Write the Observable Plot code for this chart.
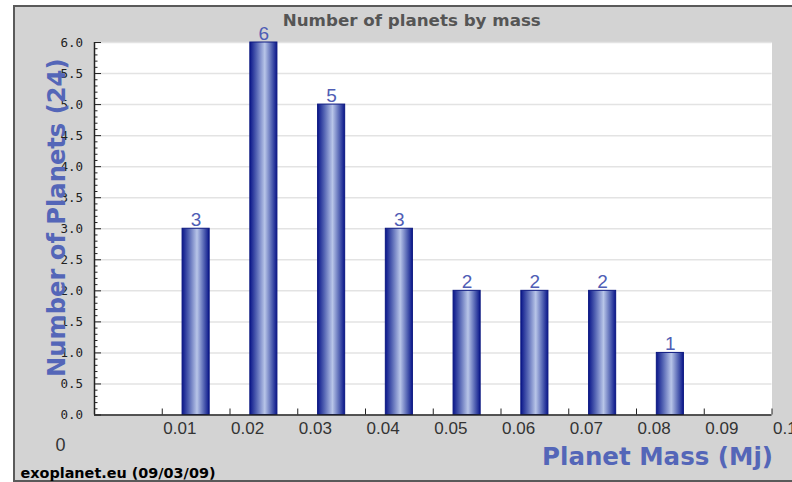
<!DOCTYPE html>
<html>
<head>
<meta charset="utf-8">
<script src="https://cdn.jsdelivr.net/npm/d3@7"></script>
<script src="https://cdn.jsdelivr.net/npm/@observablehq/plot@0.6"></script>
<style>
  html, body { margin: 0; padding: 0; background: #ffffff; }
  #wrap { position: relative; width: 792px; height: 482px; overflow: hidden; }
  #panel {
    position: absolute; left: 13px; top: 5px; width: 779px; height: 477px;
    box-sizing: border-box; background: #d3d3d3;
    border-top: 2px solid #5a5a5a; border-left: 2px solid #5a5a5a; border-bottom: 2px solid #5a5a5a;
  }
  #chart { position: absolute; left: 0; top: 0; }
</style>
</head>
<body>
<div id="wrap"><div id="panel"></div><div id="chart"></div></div>
<script>
// Histogram of planet masses (Mj): lower edge of each bin and its count
const binStart = [0.01, 0.02, 0.03, 0.04, 0.05, 0.06, 0.07, 0.08];
const counts   = [3, 6, 5, 3, 2, 2, 2, 1];
const binWidth = 0.01;

const xTicks = [0.01, 0.02, 0.03, 0.04, 0.05, 0.06, 0.07, 0.08, 0.09, 0.1];
const xTickLabels = ["0.01", "0.02", "0.03", "0.04", "0.05", "0.06", "0.07", "0.08", "0.09", "0.1"];
const yMajor = [0, 0.5, 1, 1.5, 2, 2.5, 3, 3.5, 4, 4.5, 5, 5.5, 6];
const yMinor = d3.range(0, 61).filter(i => i % 5 !== 0).map(i => i / 10);

const title = "Number of planets by mass";
const yLabel = "Number of Planets (24)";
const xLabel = "Planet Mass (Mj)";
const credit = "exoplanet.eu (09/03/09)";
const originLabel = "0";

const bins = binStart.map((lo, i) => ({lo, count: counts[i]}));

const labelBlue = "#5466b8";
const axisInk = "#222222";

const chart = Plot.plot({
  width: 792,
  height: 482,
  marginLeft: 94,
  marginRight: 20.5,
  marginTop: 42,
  marginBottom: 67.5,
  style: {fontFamily: "DejaVu Sans", background: "transparent"},
  x: {domain: [0, 0.1]},
  y: {domain: [0, 6]},
  marks: [
    Plot.frame({fill: "white", stroke: null}),
    Plot.gridY({ticks: yMajor, stroke: "#e3e3e3", strokeOpacity: 1, strokeWidth: 1.5}),
    // bars occupy the middle 40% of each bin
    Plot.rectY(bins, {
      x1: d => d.lo + binWidth * 0.3,
      x2: d => d.lo + binWidth * 0.7,
      y: "count",
      fill: "url(#barGradient)",
      stroke: "#0c1880",
      strokeWidth: 1
    }),
    Plot.text(bins, {
      x: d => d.lo + binWidth / 2,
      y: "count",
      text: d => String(d.count),
      lineAnchor: "bottom",
      dy: -2.5,
      fontFamily: "Liberation Sans",
      fontSize: 19,
      fill: "#4f5db5"
    }),
    // y axis: labels, major and minor inward ticks
    Plot.axisY({
      ticks: yMajor, tickSize: 0, tickPadding: 11.5, label: null,
      tickFormat: d3.format(".1f"),
      fontFamily: "DejaVu Sans Mono", fontSize: 12.5, fill: axisInk
    }),
    Plot.axisY({ticks: yMajor, tickSize: 7, dx: 7, label: null, tickFormat: () => "", stroke: axisInk}),
    Plot.axisY({ticks: yMinor, tickSize: 3.5, dx: 3.5, label: null, tickFormat: () => "", stroke: axisInk}),
    // x axis: labels start at their tick, ticks point up into the plot
    Plot.axisX({
      ticks: xTicks, tickSize: 0, tickPadding: 7, label: null,
      tickFormat: (d, i) => xTickLabels[i],
      textAnchor: "start", dx: 1,
      fontFamily: "Liberation Sans", fontSize: 17, fill: "#333333"
    }),
    Plot.axisX({ticks: xTicks, tickSize: 6, dy: -6, label: null, tickFormat: () => "", stroke: axisInk}),
    Plot.ruleX([0], {stroke: axisInk, strokeWidth: 1.5}),
    Plot.ruleY([0], {stroke: axisInk, strokeWidth: 1.5}),
    // titles and annotations
    Plot.text([title], {
      frameAnchor: "top", lineAnchor: "bottom", dx: -21.5, dy: -17,
      fontSize: 16.7, fontWeight: "bold", fill: "#555555"
    }),
    Plot.text([yLabel], {
      frameAnchor: "left", rotate: -90, lineAnchor: "bottom", textAnchor: "middle",
      dx: -30, dy: -11,
      fontSize: 24.2, fontWeight: "bold", fill: labelBlue
    }),
    Plot.text([xLabel], {
      frameAnchor: "bottom-right", textAnchor: "end", lineAnchor: "bottom",
      dx: 1, dy: 49.5,
      fontSize: 24.5, fontWeight: "bold", fill: labelBlue
    }),
    Plot.text([originLabel], {
      frameAnchor: "bottom-left", textAnchor: "middle", lineAnchor: "bottom",
      dx: -34, dy: 35.5, fontFamily: "Liberation Sans", fontSize: 18, fill: "#333333"
    }),
    Plot.text([credit], {
      frameAnchor: "bottom-left", textAnchor: "start", lineAnchor: "bottom",
      dx: -74, dy: 62.5, fontSize: 14.4, fontWeight: "bold", fill: "#000000"
    })
  ]
});

// horizontal shading for the bars: dark edges, light centre
const defs = d3.select(chart).insert("defs", ":first-child");
const grad = defs.append("linearGradient")
  .attr("id", "barGradient").attr("x1", 0).attr("x2", 1).attr("y1", 0).attr("y2", 0);
[[0, "#0a168a"], [0.25, "#5565b4"], [0.55, "#b8c5e8"], [0.8, "#5565b4"], [1, "#0a168a"]]
  .forEach(([o, c]) => grad.append("stop").attr("offset", o).attr("stop-color", c));

document.getElementById("chart").appendChild(chart);
</script>
</body>
</html>
